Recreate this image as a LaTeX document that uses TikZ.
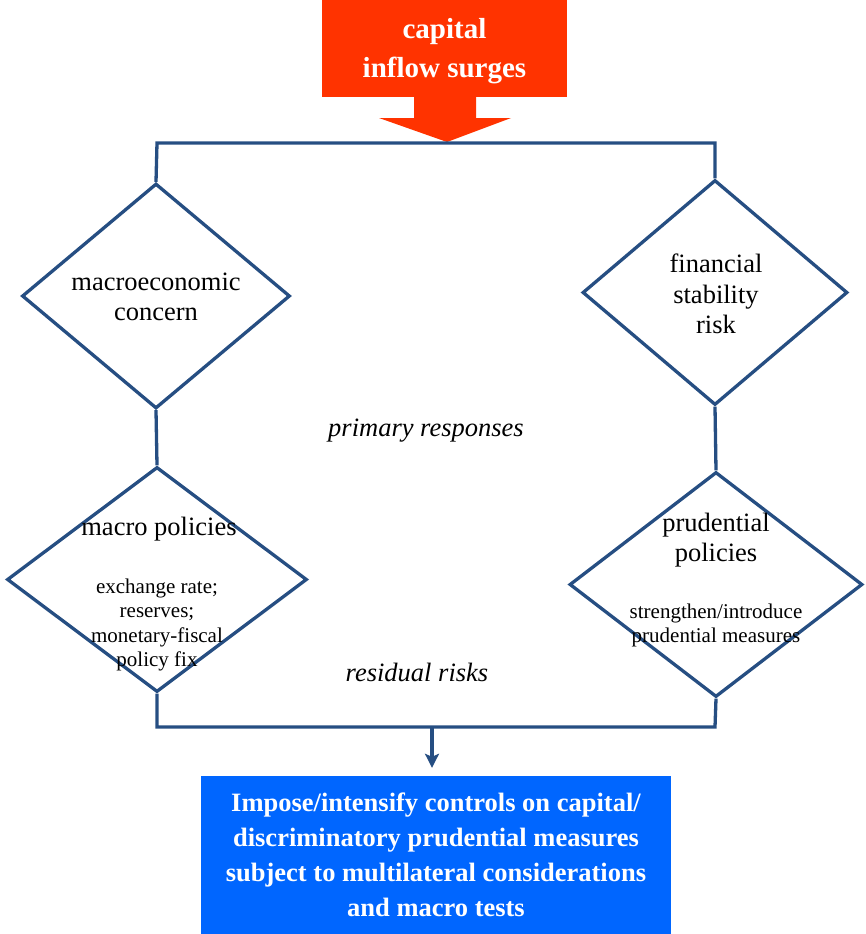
\documentclass[tikz,border=0pt]{standalone}
\usepackage{fontspec}
\setmainfont{Liberation Serif}
\usetikzlibrary{shapes.geometric,arrows.meta}
\definecolor{lineblue}{RGB}{38,78,130}
\definecolor{srcred}{RGB}{255,51,0}
\definecolor{boxblue}{RGB}{0,102,255}
\tikzset{
  dia/.style={draw=lineblue, line width=3.3pt, shape=diamond, inner sep=0pt},
  conn/.style={draw=lineblue, line width=3.3pt},
  big/.style={font=\fontsize{26.5}{30.5}\selectfont, align=center, inner sep=0pt},
  small/.style={font=\fontsize{21}{24.5}\selectfont, align=center, inner sep=0pt},
  note/.style={font=\fontsize{26.5}{30.5}\selectfont\itshape, inner sep=0pt},
}
\begin{document}
\begin{tikzpicture}[x=1pt,y=-1pt]
\useasboundingbox (0,0) rectangle (865,934);
% source
\node[fill=srcred, minimum width=245, minimum height=97, inner sep=0pt] (src) at (444.5,48.5) {};
\node[text=white, font=\fontsize{29}{39}\selectfont\bfseries, align=center, inner sep=0pt]
      (srct) at (444.5,51.5) {capital\\inflow surges};
\fill[srcred] (414,96) -- (476,96) -- (476,118) -- (511,118) -- (447,142)
   -- (379,118) -- (414,118) -- cycle;
% diamonds
\node[dia, minimum width=268, minimum height=225] (mc) at (156,296) {};
\node[dia, minimum width=300, minimum height=225] (mp) at (157,579.5) {};
\node[dia, minimum width=265, minimum height=225] (fs) at (715,292.5) {};
\node[dia, minimum width=293, minimum height=225] (pp) at (716,584.5) {};
% texts
\node[big] (mct) at (156,297) {macroeconomic\\concern};
\node[big] (fst) at (716,294) {financial\\stability\\risk};
\node[big] (mpt) at (159,529) {macro policies};
\node[small] (mps) at (157,625) {exchange rate;\\reserves;\\monetary-fiscal\\policy fix};
\node[big] (ppt) at (716,540) {prudential\\policies};
\node[small] (pps) at (716,625.5) {strengthen/introduce\\prudential measures};
\node[note] (pr) at (426,431) {primary responses};
\node[note] (rr) at (417,672) {residual risks};
% bottom box
\node[fill=boxblue, minimum width=470, minimum height=158, inner sep=0pt,
      text=white, font=\fontsize{26.5}{35}\selectfont\bfseries, align=center]
      (out) at (436,855) {Impose/intensify controls on capital/\\discriminatory prudential measures\\subject to multilateral considerations\\and macro tests};
% connectors
\coordinate (tl) at (157,143);
\coordinate (tr) at (715,143);
\coordinate (bl) at (157,727);
\coordinate (br) at (715,727);
\coordinate (bm) at (432,727);
\draw[conn] (mc.north) -- (tl) -- (tr) -- (fs.north);
\draw[conn] (mc.south) -- (mp.north);
\draw[conn] (fs.south) -- (pp.north);
\draw[conn] (mp.south) -- (bl) -- (br) -- (pp.south);
\draw[conn, -{Stealth[length=14pt,width=14pt,inset=3pt]}, shorten >=8pt] (bm) -- (bm |- out.north);
\end{tikzpicture}
\end{document}
